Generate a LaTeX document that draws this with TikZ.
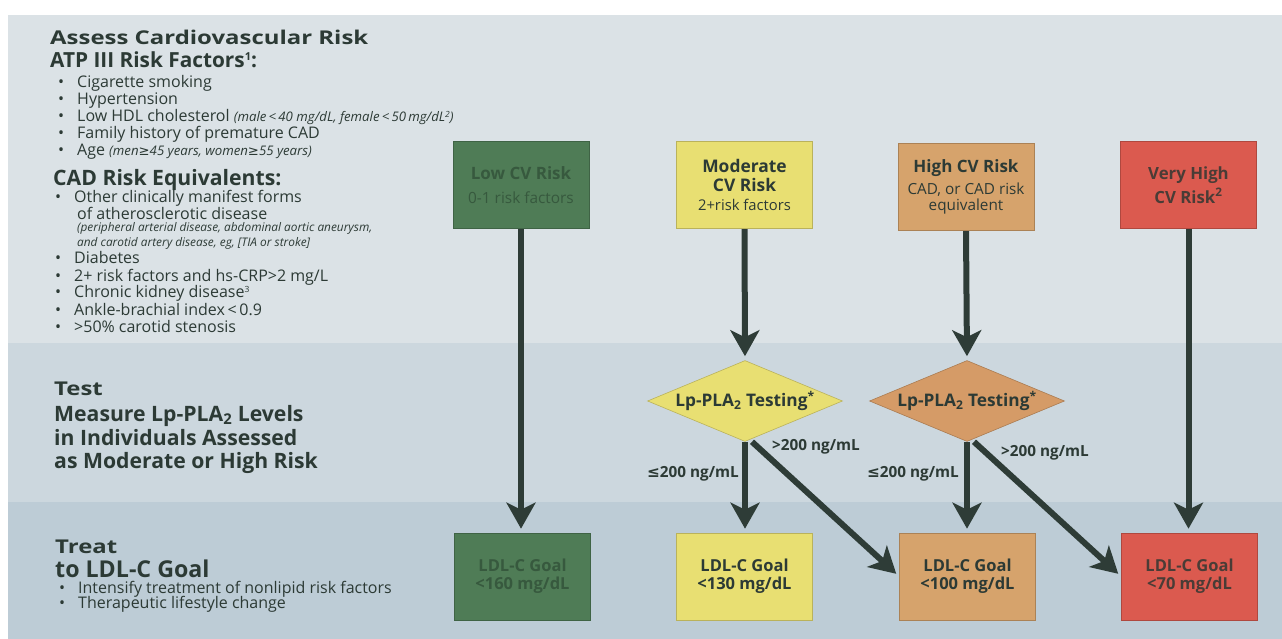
\documentclass[tikz,border=0pt]{standalone}
\usepackage{fontspec}
\usepackage{graphicx}
\setmainfont{Open Sans}
\newfontfamily\symf{DejaVu Sans}
\usetikzlibrary{shapes.geometric,arrows.meta,calc}
\definecolor{bgtop}{HTML}{DBE2E6}
\definecolor{bgmid}{HTML}{CCD7DE}
\definecolor{bgbot}{HTML}{BDCCD6}
\definecolor{ink}{HTML}{2C3A35}
\definecolor{arrowc}{HTML}{2E3C37}
\definecolor{cgreen}{HTML}{4F7C56}
\definecolor{cyellow}{HTML}{E8DF72}
\definecolor{ctan}{HTML}{D6A36C}
\definecolor{cred}{HTML}{DB5A4F}
\definecolor{dtan}{HTML}{D59B67}
\definecolor{greenink}{HTML}{37593E}
\definecolor{redink}{HTML}{4A3C36}
\pgfdeclarelayer{bg}
\pgfdeclarelayer{arr}
\pgfsetlayers{bg,arr,main}
\newcommand\fs[1]{\fontsize{#1}{#1}\selectfont}
\newcommand\wide[1]{\scalebox{1.26}[1]{#1}}
\newcommand\smallsup[1]{\raisebox{0.3em}{\fontsize{8.5}{8.5}\selectfont #1}}
\newcommand\bulline[4]{%
  \node[txt] (#1b) at (#2,#3) {\textbullet};
  \node[txt] (#1) at (#2+19,#3) {#4};}
\begin{document}
\begin{tikzpicture}[x=1pt,y=-1pt,
  txt/.style={anchor=base west, inner sep=0pt, text=ink, font=\fs{16}},
  heavyhead/.style={anchor=base west, inner sep=0pt, text=ink, font=\bfseries\fs{19}},
  riskbox/.style={rectangle, minimum width=136pt, minimum height=87pt, inner sep=2pt,
     align=center, fill=#1, draw=#1!80!black, line width=0.6pt, text=ink, font=\fs{16}},
  testdia/.style={diamond, minimum width=195pt, minimum height=81pt, inner sep=0pt,
     fill=#1, draw=#1!80!black, line width=0.6pt},
  flow/.style={draw=arrowc, line width=6pt, -{Stealth[length=26pt,width=29pt,inset=7pt]},
     shorten >=4pt},
  lbl/.style={inner sep=0pt, text=ink, font=\bfseries\fs{15.3}}
]
\useasboundingbox (0,0) rectangle (1282,639);
\begin{pgfonlayer}{bg}
\fill[white] (0,0) rectangle (1282,639);
\fill[bgtop] (8,15) rectangle (1282,343);
\fill[bgmid] (8,343) rectangle (1282,502);
\fill[bgbot] (8,502) rectangle (1282,639);
\end{pgfonlayer}

% ---- left texts
\node[heavyhead] (h1) at (50,45) {\wide{Assess Cardiovascular Risk}};
\node[txt, font=\bfseries\fs{20.8}] (h2) at (50,68) {ATP III Risk Factors\raisebox{0.35em}{\fs{11}1}:};
\bulline{a1}{58}{87.5}{Cigarette smoking}
\bulline{a2}{58}{104.5}{Hypertension}
\bulline{a3}{58}{121.5}{Low HDL cholesterol {\itshape\fs{13.2}(male{\,}<{\,}40 mg/dL, female{\,}<{\,}50\,mg/dL\smallsup{2})}}
\bulline{a4}{58}{138.5}{Family history of premature CAD}
\bulline{a5}{58}{155.5}{Age {\itshape\fs{13.2}(men{\symf≥}45 years, women{\symf≥}55 years)}}

\node[txt, font=\bfseries\fs{21.2}] (h3) at (53,186) {CAD Risk Equivalents:};
\bulline{c1}{55}{203}{Other clinically manifest forms}
\node[txt] (c1x) at (77,219) {of atherosclerotic disease};
\node[txt, font=\itshape\fs{11.85}] (c1y) at (77,232) {(peripheral arterial disease, abdominal aortic aneurysm,};
\node[txt, font=\itshape\fs{11.85}] (c1z) at (77,246) {and carotid artery disease, eg, [TIA or stroke]};
\bulline{c2}{55}{263}{Diabetes}
\bulline{c3}{55}{281}{2+ risk factors and hs-CRP>2 mg/L}
\bulline{c4}{55}{297}{Chronic kidney disease\smallsup{3}}
\bulline{c5}{55}{315}{Ankle-brachial index{\,}<{\,}0.9}
\bulline{c6}{55}{332}{>50\% carotid stenosis}

\node[heavyhead] (t1) at (54,395) {\wide{Test}};
\node[txt, font=\bfseries\fs{21.2}] (t2) at (54,421) {Measure Lp-PLA\textsubscript{2} Levels};
\node[txt, font=\bfseries\fs{21.2}] (t3) at (54,445) {in Individuals Assessed};
\node[txt, font=\bfseries\fs{21.2}] (t4) at (54,468) {as Moderate or High Risk};

\node[heavyhead] (r1) at (55,553) {\wide{Treat}};
\node[txt, font=\bfseries\fs{23.2}] (r2) at (55,577) {to LDL-C Goal};
\bulline{r3}{59}{593}{Intensify treatment of nonlipid risk factors}
\bulline{r4}{59}{608}{Therapeutic lifestyle change}

% ---- risk boxes
\node[riskbox=cgreen, text=greenink] (lt) at (521,185)
  {{\bfseries\fs{17}Low CV Risk}\\[8pt]{\fs{15.4}0-1 risk factors}};
\node[riskbox=cyellow] (mt) at (744.5,185)
  {{\bfseries\fs{17.4}Moderate}\\[3.5pt]{\bfseries\fs{17.4}CV Risk}\\[3pt]{\fs{14.8}2+risk factors}};
\node[riskbox=ctan] (ht) at (966,187)
  {{\bfseries\fs{17}High CV Risk}\\[6pt]{\fs{15.3}CAD, or CAD risk}\\[0pt]{\fs{15.3}equivalent}};
\node[riskbox=cred, text=redink] (vt) at (1188.5,185)
  {{\bfseries\fs{16.8}Very High}\\[4pt]{\bfseries\fs{16.8}CV Risk\textsuperscript{2}}};

% ---- diamonds
\node[testdia=cyellow] (d1) at (745,401) {};
\node[inner sep=0pt, text=ink, font=\bfseries\fs{17.3}] (d1t) at (d1) {Lp-PLA\textsubscript{2} Testing\textsuperscript{*}};
\node[testdia=dtan] (d2) at (967,401) {};
\node[inner sep=0pt, text=ink, font=\bfseries\fs{17.3}] (d2t) at (d2) {Lp-PLA\textsubscript{2} Testing\textsuperscript{*}};

% ---- goal boxes
\node[riskbox=cgreen, text=greenink] (lb) at (522.5,576.5)
  {{\bfseries\fs{16.5}LDL-C Goal}\\[2pt]{\bfseries\fs{16.5}<160 mg/dL}};
\node[riskbox=cyellow] (mb) at (744.5,576.5)
  {{\bfseries\fs{16.5}LDL-C Goal}\\[2pt]{\bfseries\fs{16.5}<130 mg/dL}};
\node[riskbox=ctan] (hb) at (967.5,576.5)
  {{\bfseries\fs{16.5}LDL-C Goal}\\[2pt]{\bfseries\fs{16.5}<100 mg/dL}};
\node[riskbox=cred, text=redink] (vb) at (1189.5,576.5)
  {{\bfseries\fs{16.5}LDL-C Goal}\\[2pt]{\bfseries\fs{16.5}<70 mg/dL}};

% ---- labels
\node[lbl] (l1) at (693,474) {{\symf\bfseries ≤}200 ng/mL};
\node[lbl] (l2) at (816,447) {>200 ng/mL};
\node[lbl] (l3) at (913,474) {{\symf\bfseries ≤}200 ng/mL};
\node[lbl] (l4) at (1045,453) {>200 ng/mL};

% ---- arrows
\begin{pgfonlayer}{arr}
\draw[flow] (lt.south) -- (lt.south |- lb.north);
\draw[flow] (mt.south) -- (d1.north);
\draw[flow] (d1.south) -- (d1.south |- mb.north);
\draw[flow] ([xshift=7pt]d1.south) -- (hb.west);
\draw[flow] (ht.south) -- (d2.north);
\draw[flow] (d2.south) -- (d2.south |- hb.north);
\draw[flow] ([xshift=7pt]d2.south) -- (vb.west);
\draw[flow] (vt.south) -- (vt.south |- vb.north);
\end{pgfonlayer}
\end{tikzpicture}
\end{document}
